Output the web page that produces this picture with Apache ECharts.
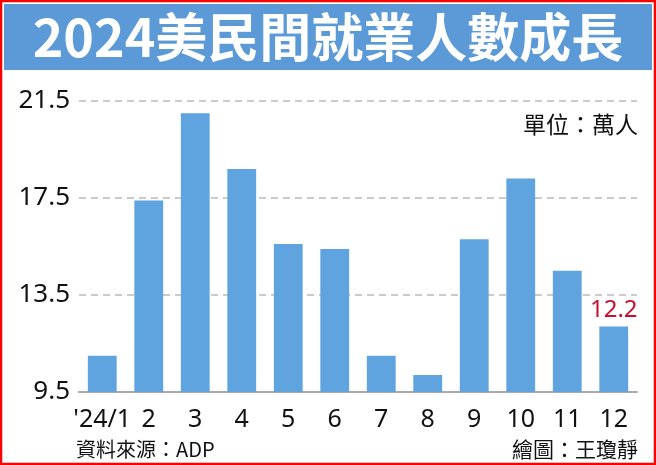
<!DOCTYPE html>
<html>
<head>
<meta charset="utf-8">
<script src="https://cdn.jsdelivr.net/npm/echarts@6/dist/echarts.min.js"></script>
<style>
html,body{margin:0;padding:0;background:#fff;}
#c{width:656px;height:465px;}
</style>
</head>
<body>
<div id="c"></div>
<script>
const categories = ["'24/1","2","3","4","5","6","7","8","9","10","11","12"];
const values = [11.0,17.4,21.0,18.7,15.6,15.4,11.0,10.2,15.8,18.3,14.5,12.2];
const yTicks = [9.5,13.5,17.5,21.5];
const titleText = "2024美民間就業人數成長";
const unitText = "單位：萬人";
const sourceText = "資料來源：ADP";
const authorText = "繪圖：王瓊靜";

const chart = echarts.init(document.getElementById('c'));
const font = '"Noto Sans CJK TC","Noto Sans",sans-serif';
const numFont = '"Noto Sans","Liberation Sans",sans-serif';
chart.setOption({
  animation:false,
  backgroundColor:'#fff',
  grid:{left:79,right:19,top:101,bottom:73,containLabel:false},
  xAxis:{
    type:'category',data:categories,
    axisLine:{lineStyle:{color:'#aaaaaa',width:2}},
    axisTick:{alignWithLabel:true,length:7,lineStyle:{color:'#aaaaaa',width:2}},
    axisLabel:{color:'#111',fontSize:25,fontFamily:numFont,margin:15,interval:0}
  },
  yAxis:{
    type:'value',min:yTicks[0],max:yTicks[yTicks.length-1],interval:4,
    axisLine:{show:false},axisTick:{show:false},
    axisLabel:{color:'#111',fontSize:26,fontFamily:numFont,margin:9,formatter:v=>v.toFixed(1)},
    splitLine:{lineStyle:{color:'#bbbbbb',type:[7,5],width:1.5}}
  },
  series:[{
    type:'bar',data:values.map((v,i)=>i===values.length-1?{value:v,label:{show:true,position:'top',color:'#c8102e',fontSize:24,fontFamily:numFont,distance:4,formatter:'{c}'}}:v),
    barCategoryGap:'38%',
    itemStyle:{color:'#5fa4df'}
  }],
  graphic:[
    {type:'rect',shape:{x:4,y:4,width:648,height:66},style:{fill:'#5b9ad6'}},
    {type:'text',x:328,y:37,style:{text:titleText,fill:'#fff',font:'bold 52px '+font,textAlign:'center',textVerticalAlign:'middle'}},
    {type:'text',x:638,y:124,style:{text:unitText,fill:'#111',font:'23px '+font,textAlign:'right',textVerticalAlign:'middle'}},
    {type:'text',x:76,y:449,style:{text:sourceText,fill:'#111',font:'20px '+font,textAlign:'left',textVerticalAlign:'middle'}},
    {type:'text',x:638,y:449,style:{text:authorText,fill:'#111',font:'21px '+font,textAlign:'right',textVerticalAlign:'middle'}},
    {type:'rect',shape:{x:1,y:1,width:654,height:463},style:{fill:'none',stroke:'#ff0000',lineWidth:2.5}}
  ]
});
</script>
</body>
</html>
